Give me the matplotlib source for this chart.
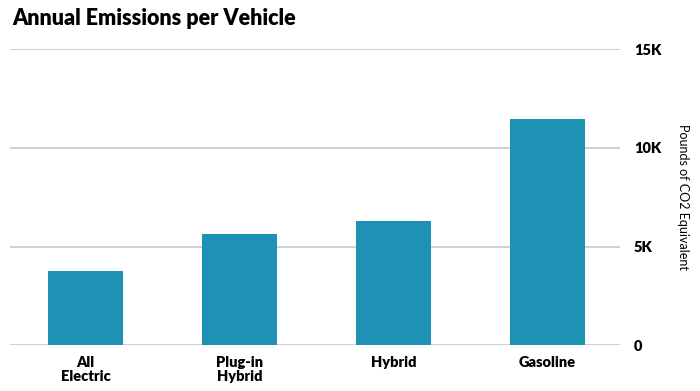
import matplotlib.pyplot as plt
from matplotlib.ticker import FuncFormatter

categories = ['All\nElectric', 'Plug-in\nHybrid', 'Hybrid', 'Gasoline']
emissions = [3770, 5620, 6320, 11450]
yticks = [0, 5000, 10000, 15000]

plt.rcParams['font.family'] = ['Lato', 'DejaVu Sans']

fig = plt.figure(figsize=(7, 3.91), dpi=100)
ax = fig.add_axes([0.0143, 0.117, 0.8714, 0.757])

x = range(len(categories))
ax.bar(x, emissions, width=0.49, color='#1E91B4', zorder=2)

ax.set_xlim(-0.49, 3.47)
ax.set_ylim(0, 15000)
ax.set_yticks(yticks)
ax.yaxis.set_major_formatter(FuncFormatter(lambda v, p: '0' if v == 0 else f'{int(v/1000)}K'))
ax.yaxis.tick_right()
ax.yaxis.set_label_position('right')
ax.grid(axis='y', color='#c8c8c8', linewidth=1.2, zorder=0)
ax.set_xticks(list(x))
ax.set_xticklabels(categories, fontweight='heavy', fontsize=10.5, linespacing=1.05)
for lab in ax.get_yticklabels():
    lab.set_fontweight('heavy')
    lab.set_fontsize(10.5)
ax.tick_params(axis='both', length=0)
ax.tick_params(axis='y', pad=10)
ax.tick_params(axis='x', pad=8)
for s in ax.spines.values():
    s.set_visible(False)

ax.set_ylabel('Pounds of CO2 Equivalent', rotation=-90, fontsize=9, va='center')
ax.yaxis.set_label_coords(1.103, 0.5)

fig.text(0.017, 0.935, 'Annual Emissions per Vehicle', fontsize=15.5, fontweight='heavy', va='baseline')

fig.savefig('out.png', dpi=100)
